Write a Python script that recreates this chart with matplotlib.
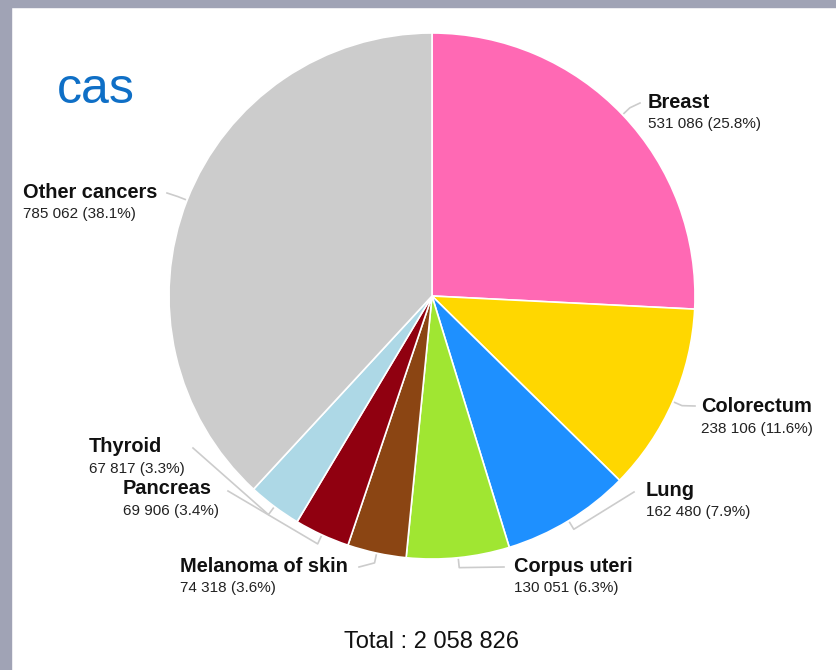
import numpy as np
import matplotlib.pyplot as plt
from matplotlib.patches import Rectangle

plt.rcParams['font.family'] = ['Liberation Sans', 'DejaVu Sans']

# 数据
cancers = ['Breast', 'Colorectum', 'Lung', 'Corpus uteri', 'Melanoma of skin',
           'Pancreas', 'Thyroid', 'Other cancers']
cases = [531086, 238106, 162480, 130051, 74318, 69906, 67817, 785062]
colors = ['#ff69b4', '#ffd700', '#1e90ff', '#a0e632', '#8b4513',
          '#900010', '#add8e6', '#cccccc']

W, H = 836, 670


def fmt(n):
    return '{:,}'.format(n).replace(',', ' ')


# 标签位置（像素，从上往下）: 文字左边, 名称中心y, 引线终点
label_pos = {
    'Breast': (648, 102, 640, 103),
    'Colorectum': (701, 407, 695, 406),
    'Lung': (646, 490, 634, 492),
    'Corpus uteri': (514, 566, 504, 567),
    'Melanoma of skin': (180, 566, 359, 567),
    'Pancreas': (123, 489, 228, 491),
    'Thyroid': (89, 447, 193, 448),
    'Other cancers': (23, 192, 167, 193),
}

fig = plt.figure(figsize=(W / 100, H / 100), dpi=100)
ax = fig.add_axes([0, 0, 1, 1])
ax.set_xlim(0, W)
ax.set_ylim(0, H)
ax.axis('off')

cx, cy, r = 432, 296, 263
ax.pie(cases, colors=colors, center=(cx, H - cy), radius=r, startangle=90,
       counterclock=False, wedgeprops=dict(edgecolor='white', linewidth=1.2))
ax.set_xlim(0, W)
ax.set_ylim(0, H)
ax.set_aspect('equal')

total = sum(cases)
cum = 0
for name, v in zip(cancers, cases):
    mid = (cum + v / 2) / total
    cum += v
    ang = np.pi / 2 - 2 * np.pi * mid
    x0 = cx + (r + 2) * np.cos(ang)
    y0 = cy - (r + 2) * np.sin(ang)
    x1 = cx + (r + 10) * np.cos(ang)
    y1 = cy - (r + 10) * np.sin(ang)
    tx, ty, ex, ey = label_pos[name]
    ax.plot([x0, x1, ex], [H - y0, H - y1, H - ey], color='#cccccc', lw=1.2,
            solid_joinstyle='round')
    ax.text(tx, H - ty, name, fontsize=14.4, fontweight='bold', color='#111111',
            ha='left', va='center')
    pct = v / total * 100
    ax.text(tx, H - ty - 22, '%s (%.1f%%)' % (fmt(v), pct), fontsize=11,
            color='#222222', ha='left', va='center')

# 总数
ax.text(432, H - 642, 'Total : ' + fmt(total), fontsize=17, color='#111111',
        ha='center', va='center')

# logo
ax.text(57, H - 90, 'cas', fontsize=36, color='#0f6fc6', ha='left', va='center')

# 灰色边框
fig.patches.append(Rectangle((0, 1 - 7 / H), 1, 7 / H, transform=fig.transFigure,
                             color='#a0a3b5', zorder=10))
fig.patches.append(Rectangle((0, 0), 11 / W, 1, transform=fig.transFigure,
                             color='#a0a3b5', zorder=10))

fig.savefig('out.png', dpi=100, facecolor='white')
